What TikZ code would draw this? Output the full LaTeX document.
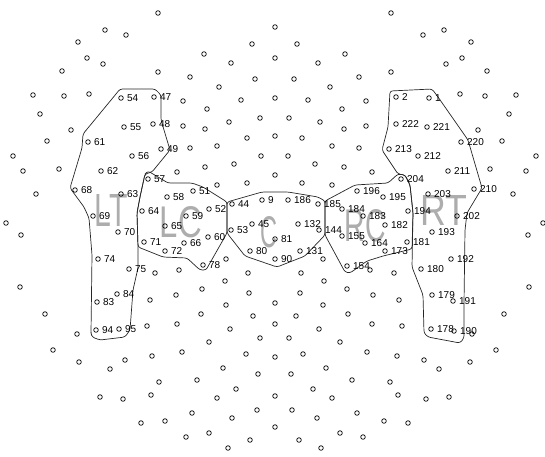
\documentclass[tikz,border=0pt]{standalone}
\usepackage{fontspec}
\setmainfont{Liberation Sans}
\usetikzlibrary{positioning}

\begin{document}
\begin{tikzpicture}[
  x=1pt, y=-1pt,
  font=\fontsize{10}{12}\selectfont,
  label distance=3pt,
  elec/.style={draw, circle, inner sep=0pt, minimum size=4.6pt, line width=0.7pt},
  num/.style={inner sep=0.3pt},
  zone/.style={draw=black!85, line width=0.7pt, rounded corners=2.5pt},
  tag/.style={text=black!32, inner sep=0pt}
]
\useasboundingbox (0,0) rectangle (545,456);

% region letters
\node[tag] (lt) at (111,210) {\resizebox{33pt}{32pt}{LT}};
\node[tag] (lc) at (181,222) {\resizebox{42pt}{31pt}{LC}};
\node[tag] (c)  at (269,232) {\resizebox{17pt}{31pt}{C}};
\node[tag] (rc) at (365,226) {\resizebox{41pt}{32pt}{RC}};
\node[tag] (rt) at (444,210) {\resizebox{47pt}{30pt}{RT}};

% region outlines
\draw[zone] (120,89) -- (155,89) -- (161,95) -- (161,120) -- (170,150) -- (152,172) -- (145,174)
  -- (140,197) -- (137,213) -- (138,247) -- (138,268) -- (133,290) -- (130,330) -- (125,337)
  -- (100,340) -- (92,337) -- (91,333) -- (92,255) -- (89,218) -- (84,207) -- (70,188)
  -- (82,148) -- (83,134) -- (116,94) -- cycle;
\draw[zone] (148,171) -- (168,183) -- (192,183) -- (203,187) -- (227,202) -- (227,233)
  -- (206,270) -- (200,270) -- (187,258) -- (163,257) -- (138,247) -- (137,213) -- (140,197)
  -- (145,174) -- cycle;
\draw[zone] (227,202) -- (262,192) -- (288,192) -- (318,197) -- (325,201) -- (325,235)
  -- (305,256) -- (277,267) -- (245,256) -- (227,233) -- cycle;
\draw[zone] (325,201) -- (355,185) -- (388,183) -- (398,174) -- (405,175) -- (410,185)
  -- (413,213) -- (412,249) -- (383,256) -- (367,261) -- (350,273) -- (345,272) -- (325,235) -- cycle;
\draw[zone] (390,91) -- (432,89) -- (438,97) -- (468,140) -- (482,188) -- (467,213) -- (465,230)
  -- (464,303) -- (464,338) -- (460,343) -- (428,337) -- (424,333) -- (423,295) -- (412,267)
  -- (413,213) -- (410,185) -- (405,175) -- (398,174) -- (382,150) -- (388,127) -- cycle;

% unlabelled electrodes, left half and its mirror image
\foreach \x/\y [count=\i] in {158/13, 105/30, 126/35, 78/42, 252/44, 87/58, 103/64, 204/54,
    231/63, 62/71, 158/72, 190/77, 255/79, 219/87, 33/95, 64/96, 89/94, 183/101, 241/100,
    207/109, 40/114, 183/126, 229/122, 260/118, 71/130, 205/129, 47/141, 190/148, 217/146,
    247/138, 13/156, 261/156, 23/171, 59/169, 177/172, 205/167, 234/164, 217/185, 247/183,
    36/194, 6/223, 21/235, 155/273, 179/270, 226/259, 20/287, 225/281, 248/273, 202/289,
    176/295, 150/300, 226/305, 249/293, 45/314, 201/314, 253/316, 77/334, 147/326, 177/324,
    230/329, 260/338, 209/342, 53/350, 79/362, 110/369, 125/360, 152/356, 182/352, 246/354,
    223/368, 258/374, 159/382, 197/380, 236/389, 100/397, 123/399, 151/395, 217/398, 257/410,
    192/413, 141/423, 165/421, 232/418, 186/437, 209/433, 250/440, 228/448} {
  \node[elec] (l\i) at (\x,\y) {};
  \node[elec] (r\i) at (549-\x,\y) {};
}
\foreach \y [count=\i] in {27, 58, 98, 136, 175, 303, 324, 357, 396, 427}
  \node[elec] (m\i) at (275,\y) {};

% labelled electrodes, left
\node[elec, label={[num]right:54}] (e54) at (121,98) {};
\node[elec, label={[num]right:47}] (e47) at (154,97) {};
\node[elec, label={[num]right:55}] (e55) at (124,127) {};
\node[elec, label={[num]right:48}] (e48) at (153,124) {};
\node[elec, label={[num]right:61}] (e61) at (88,142) {};
\node[elec, label={[num]right:49}] (e49) at (161,149) {};
\node[elec, label={[num]right:56}] (e56) at (132,156) {};
\node[elec, label={[num]right:62}] (e62) at (101,171) {};
\node[elec, label={[num]right:57}] (e57) at (148,179) {};
\node[elec, label={[num]right:68}] (e68) at (75,190) {};
\node[elec, label={[num]right:63}] (e63) at (121,194) {};
\node[elec, label={[num]right:51}] (e51) at (193,191) {};
\node[elec, label={[num]right:58}] (e58) at (167,197) {};
\node[elec, label={[num]right:52}] (e52) at (209,209) {};
\node[elec, label={[num]right:44}] (e44) at (232,204) {};
\node[elec, label={[num]right:9}] (e9) at (262,200) {};
\node[elec, label={[num]right:69}] (e69) at (93,216) {};
\node[elec, label={[num]right:64}] (e64) at (142,211) {};
\node[elec, label={[num]right:59}] (e59) at (186,216) {};
\node[elec, label={[num]right:65}] (e65) at (165,226) {};
\node[elec, label={[num]right:45}] (e45) at (252,224) {};
\node[elec, label={[num]right:70}] (e70) at (118,232) {};
\node[elec, label={[num]right:71}] (e71) at (144,242) {};
\node[elec, label={[num]right:66}] (e66) at (184,243) {};
\node[elec, label={[num]right:60}] (e60) at (208,237) {};
\node[elec, label={[num]right:53}] (e53) at (231,230) {};
\node[elec, label={[num]right:72}] (e72) at (165,251) {};
\node[elec, label={[num]right:80}] (e80) at (250,251) {};
\node[elec, label={[num]right:74}] (e74) at (98,259) {};
\node[elec, label={[num]right:75}] (e75) at (129,269) {};
\node[elec, label={[num]right:78}] (e78) at (203,265) {};
\node[elec, label={[num]right:84}] (e84) at (117,294) {};
\node[elec, label={[num]right:83}] (e83) at (97,302) {};
\node[elec, label={[num]right:94}] (e94) at (96,330) {};
\node[elec, label={[num]right:95}] (e95) at (119,329) {};

% labelled electrodes, midline
\node[elec, label={[num]right:81}] (e81) at (275,239) {};
\node[elec, label={[num]right:90}] (e90) at (275,259) {};

% labelled electrodes, right
\node[elec, label={[num]right:2}] (e2) at (396,97) {};
\node[elec, label={[num]right:1}] (e1) at (429,98) {};
\node[elec, label={[num]right:222}] (e222) at (396,124) {};
\node[elec, label={[num]right:221}] (e221) at (427,127) {};
\node[elec, label={[num]right:220}] (e220) at (461,142) {};
\node[elec, label={[num]right:213}] (e213) at (389,149) {};
\node[elec, label={[num]right:212}] (e212) at (418,156) {};
\node[elec, label={[num]right:211}] (e211) at (448,171) {};
\node[elec, label={[num]right:204}] (e204) at (401,179) {};
\node[elec, label={[num]right:210}] (e210) at (474,189) {};
\node[elec, label={[num]right:196}] (e196) at (357,191) {};
\node[elec, label={[num]right:195}] (e195) at (383,197) {};
\node[elec, label={[num]right:203}] (e203) at (428,194) {};
\node[elec, label={[num]right:186}] (e186) at (288,200) {};
\node[elec, label={[num]right:185}] (e185) at (318,204) {};
\node[elec, label={[num]right:184}] (e184) at (342,209) {};
\node[elec, label={[num]right:183}] (e183) at (363,216) {};
\node[elec, label={[num]right:194}] (e194) at (408,211) {};
\node[elec, label={[num]right:202}] (e202) at (457,216) {};
\node[elec, label={[num]right:132}] (e132) at (298,224) {};
\node[elec, label={[num]right:144}] (e144) at (319,230) {};
\node[elec, label={[num]right:182}] (e182) at (385,225) {};
\node[elec, label={[num]right:193}] (e193) at (432,232) {};
\node[elec, label={[num]right:155}] (e155) at (342,236) {};
\node[elec, label={[num]right:164}] (e164) at (365,243) {};
\node[elec, label={[num]right:181}] (e181) at (407,242) {};
\node[elec, label={[num]right:131}] (e131) at (300,251) {};
\node[elec, label={[num]right:173}] (e173) at (385,251) {};
\node[elec, label={[num]right:192}] (e192) at (451,259) {};
\node[elec, label={[num]right:154}] (e154) at (347,266) {};
\node[elec, label={[num]right:180}] (e180) at (421,269) {};
\node[elec, label={[num]right:179}] (e179) at (432,295) {};
\node[elec, label={[num]right:191}] (e191) at (453,301) {};
\node[elec, label={[num]right:178}] (e178) at (431,329) {};
\node[elec, label={[num]right:190}] (e190) at (454,331) {};
\end{tikzpicture}
\end{document}
